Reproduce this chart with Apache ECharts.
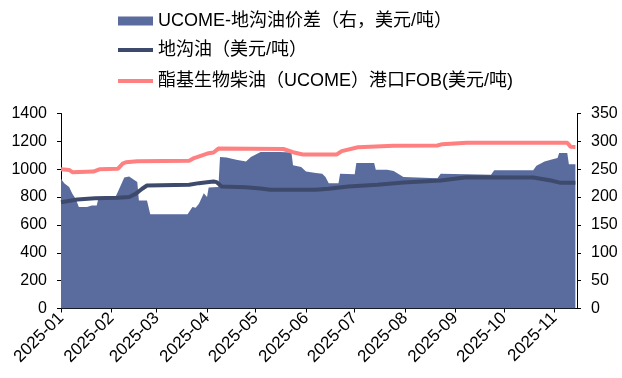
<!DOCTYPE html>
<html>
<head>
<meta charset="utf-8">
<script src="https://cdn.jsdelivr.net/npm/echarts@6/dist/echarts.min.js"></script>
<style>
  html, body { margin: 0; padding: 0; background: #fff; }
  #chart { width: 622px; height: 378px; }
</style>
</head>
<body>
<div id="chart"></div>
<script>
// Series names (legend text)
const nameSpread = 'UCOME-地沟油价差（右，美元/吨）';
const nameUco = '地沟油（美元/吨）';
const nameUcome = '酯基生物柴油（UCOME）港口FOB(美元/吨)';

// Month ticks on the x axis
const monthTicks = ['2025-01-01', '2025-02-01', '2025-03-01', '2025-04-01', '2025-05-01', '2025-06-01',
  '2025-07-01', '2025-08-01', '2025-09-01', '2025-10-01', '2025-11-01'];
const xRange = ['2025-01-01', '2025-11-15'];

// UCOME minus UCO spread, USD/t (right axis)
const spreadDates = ['2025-01-01', '2025-01-03', '2025-01-06', '2025-01-08', '2025-01-10', '2025-01-12',
  '2025-01-17', '2025-01-20', '2025-01-23', '2025-01-24', '2025-02-03', '2025-02-05', '2025-02-09',
  '2025-02-12', '2025-02-17', '2025-02-18', '2025-02-23', '2025-02-25', '2025-03-20', '2025-03-21',
  '2025-03-23', '2025-03-25', '2025-03-27', '2025-03-30', '2025-04-01', '2025-04-02', '2025-04-08',
  '2025-04-09', '2025-04-13', '2025-04-19', '2025-04-25', '2025-04-28', '2025-05-04', '2025-05-16',
  '2025-05-23', '2025-05-24', '2025-05-29', '2025-06-01', '2025-06-07', '2025-06-11', '2025-06-13',
  '2025-06-15', '2025-06-21', '2025-06-22', '2025-07-01', '2025-07-02', '2025-07-13', '2025-07-14',
  '2025-07-21', '2025-07-25', '2025-07-31', '2025-08-21', '2025-08-23', '2025-09-23', '2025-09-25',
  '2025-10-19', '2025-10-21', '2025-10-26', '2025-10-31', '2025-11-03', '2025-11-04', '2025-11-09',
  '2025-11-10', '2025-11-14'];
const spreadValues = [233, 225, 218, 206, 197, 182,
  182, 185, 185, 197, 197, 209, 235,
  237, 227, 194, 194, 169, 169, 166,
  182, 181, 188, 207, 200, 217, 218,
  272, 271, 267, 264, 272, 281, 281,
  280, 257, 254, 246, 243, 242, 236,
  225, 225, 242, 241, 261, 261, 249,
  249, 247, 236, 234, 242, 240, 248,
  248, 256, 264, 268, 270, 279, 279,
  259, 259];

// UCO price, USD/t (left axis)
const ucoDates = ['2025-01-01', '2025-01-11', '2025-01-22', '2025-02-05', '2025-02-12', '2025-02-16',
  '2025-02-20', '2025-02-23', '2025-03-21', '2025-03-27', '2025-04-01', '2025-04-05', '2025-04-07',
  '2025-04-10', '2025-04-25', '2025-05-04', '2025-05-10', '2025-06-07', '2025-06-15', '2025-06-27',
  '2025-07-15', '2025-07-31', '2025-08-23', '2025-09-08', '2025-10-19', '2025-10-30', '2025-11-05',
  '2025-11-14'];
const ucoValues = [763, 782, 792, 795, 800, 823,
  860, 883, 888, 900, 907, 912, 907,
  876, 871, 862, 852, 852, 859, 876,
  888, 905, 919, 943, 940, 919, 902,
  902];

// UCOME port FOB price, USD/t (left axis)
const ucomeDates = ['2025-01-01', '2025-01-06', '2025-01-08', '2025-01-21', '2025-01-25', '2025-02-05',
  '2025-02-08', '2025-02-10', '2025-02-17', '2025-03-21', '2025-03-24', '2025-03-29', '2025-04-02',
  '2025-04-05', '2025-04-08', '2025-05-18', '2025-05-24', '2025-05-30', '2025-06-20', '2025-06-23',
  '2025-07-03', '2025-07-25', '2025-08-21', '2025-08-24', '2025-09-08', '2025-11-09', '2025-11-11',
  '2025-11-14'];
const ucomeValues = [1000, 995, 979, 983, 1000, 1003,
  1040, 1050, 1058, 1060, 1080, 1100, 1115,
  1120, 1148, 1145, 1122, 1106, 1106, 1130,
  1158, 1168, 1170, 1180, 1190, 1190, 1162,
  1160];

// Left and right axis tick ranges
const leftAxis = { min: 0, max: 1400, step: 200 };
const rightAxis = { min: 0, max: 350, step: 50 };

const ts = d => Date.UTC(+d.slice(0, 4), +d.slice(5, 7) - 1, +d.slice(8, 10));
const zip = (ds, vs) => ds.map((d, i) => [ts(d), vs[i]]);
const monthStamps = monthTicks.map(ts);

const font = '"Liberation Sans", Arial, sans-serif';
const cjkFont = '"Liberation Sans", "Noto Sans CJK SC", sans-serif';

const axisCommon = {
  axisLine: { show: true, lineStyle: { color: '#000', width: 1 } },
  axisTick: { show: true, inside: false, length: 4, lineStyle: { color: '#000' } },
  splitLine: { show: false },
  axisLabel: { color: '#000', fontSize: 16, fontFamily: font, margin: 14, formatter: v => String(v) }
};

const legendCommon = {
  left: 118,
  padding: 0,
  orient: 'horizontal',
  itemWidth: 35,
  itemGap: 0,
  icon: 'rect',
  textStyle: { color: '#000', fontSize: 18, fontFamily: cjkFont }
};

const option = {
  animation: false,
  backgroundColor: '#fff',
  grid: { left: 61, right: 45, top: 113.5, bottom: 69.5, containLabel: false },
  legend: [
    Object.assign({}, legendCommon, { top: 12, itemHeight: 9, data: [nameSpread] }),
    Object.assign({}, legendCommon, { top: 41, itemHeight: 4, data: [nameUco] }),
    Object.assign({}, legendCommon, { top: 72, itemHeight: 4, data: [nameUcome] })
  ],
  xAxis: {
    type: 'value',
    min: ts(xRange[0]),
    max: ts(xRange[1]),
    axisLine: { show: true, lineStyle: { color: '#000', width: 1 } },
    axisTick: { show: true, length: 4, customValues: monthStamps, lineStyle: { color: '#000' } },
    splitLine: { show: false },
    axisLabel: {
      customValues: monthStamps,
      rotate: 45,
      color: '#000',
      fontSize: 17,
      fontFamily: font,
      margin: 7,
      formatter: function (v) {
        const d = new Date(v);
        return d.getUTCFullYear() + '-' + String(d.getUTCMonth() + 1).padStart(2, '0');
      }
    }
  },
  yAxis: [
    Object.assign({}, axisCommon, {
      type: 'value', position: 'left',
      min: leftAxis.min, max: leftAxis.max, interval: leftAxis.step
    }),
    Object.assign({}, axisCommon, {
      type: 'value', position: 'right',
      min: rightAxis.min, max: rightAxis.max, interval: rightAxis.step
    })
  ],
  series: [
    {
      name: nameSpread,
      type: 'line',
      yAxisIndex: 1,
      data: zip(spreadDates, spreadValues),
      symbol: 'none',
      color: '#5a6b9e',
      lineStyle: { width: 0 },
      areaStyle: { color: '#5a6b9e', opacity: 1 },
      z: 1
    },
    {
      name: nameUco,
      type: 'line',
      yAxisIndex: 0,
      data: zip(ucoDates, ucoValues),
      symbol: 'none',
      color: '#3e4a6c',
      lineStyle: { width: 4, color: '#3e4a6c' },
      z: 2
    },
    {
      name: nameUcome,
      type: 'line',
      yAxisIndex: 0,
      data: zip(ucomeDates, ucomeValues),
      symbol: 'none',
      color: '#ff8080',
      lineStyle: { width: 4, color: '#ff8080' },
      z: 3
    }
  ]
};

const chart = echarts.init(document.getElementById('chart'), null, { renderer: 'canvas' });
chart.setOption(option);
</script>
</body>
</html>
